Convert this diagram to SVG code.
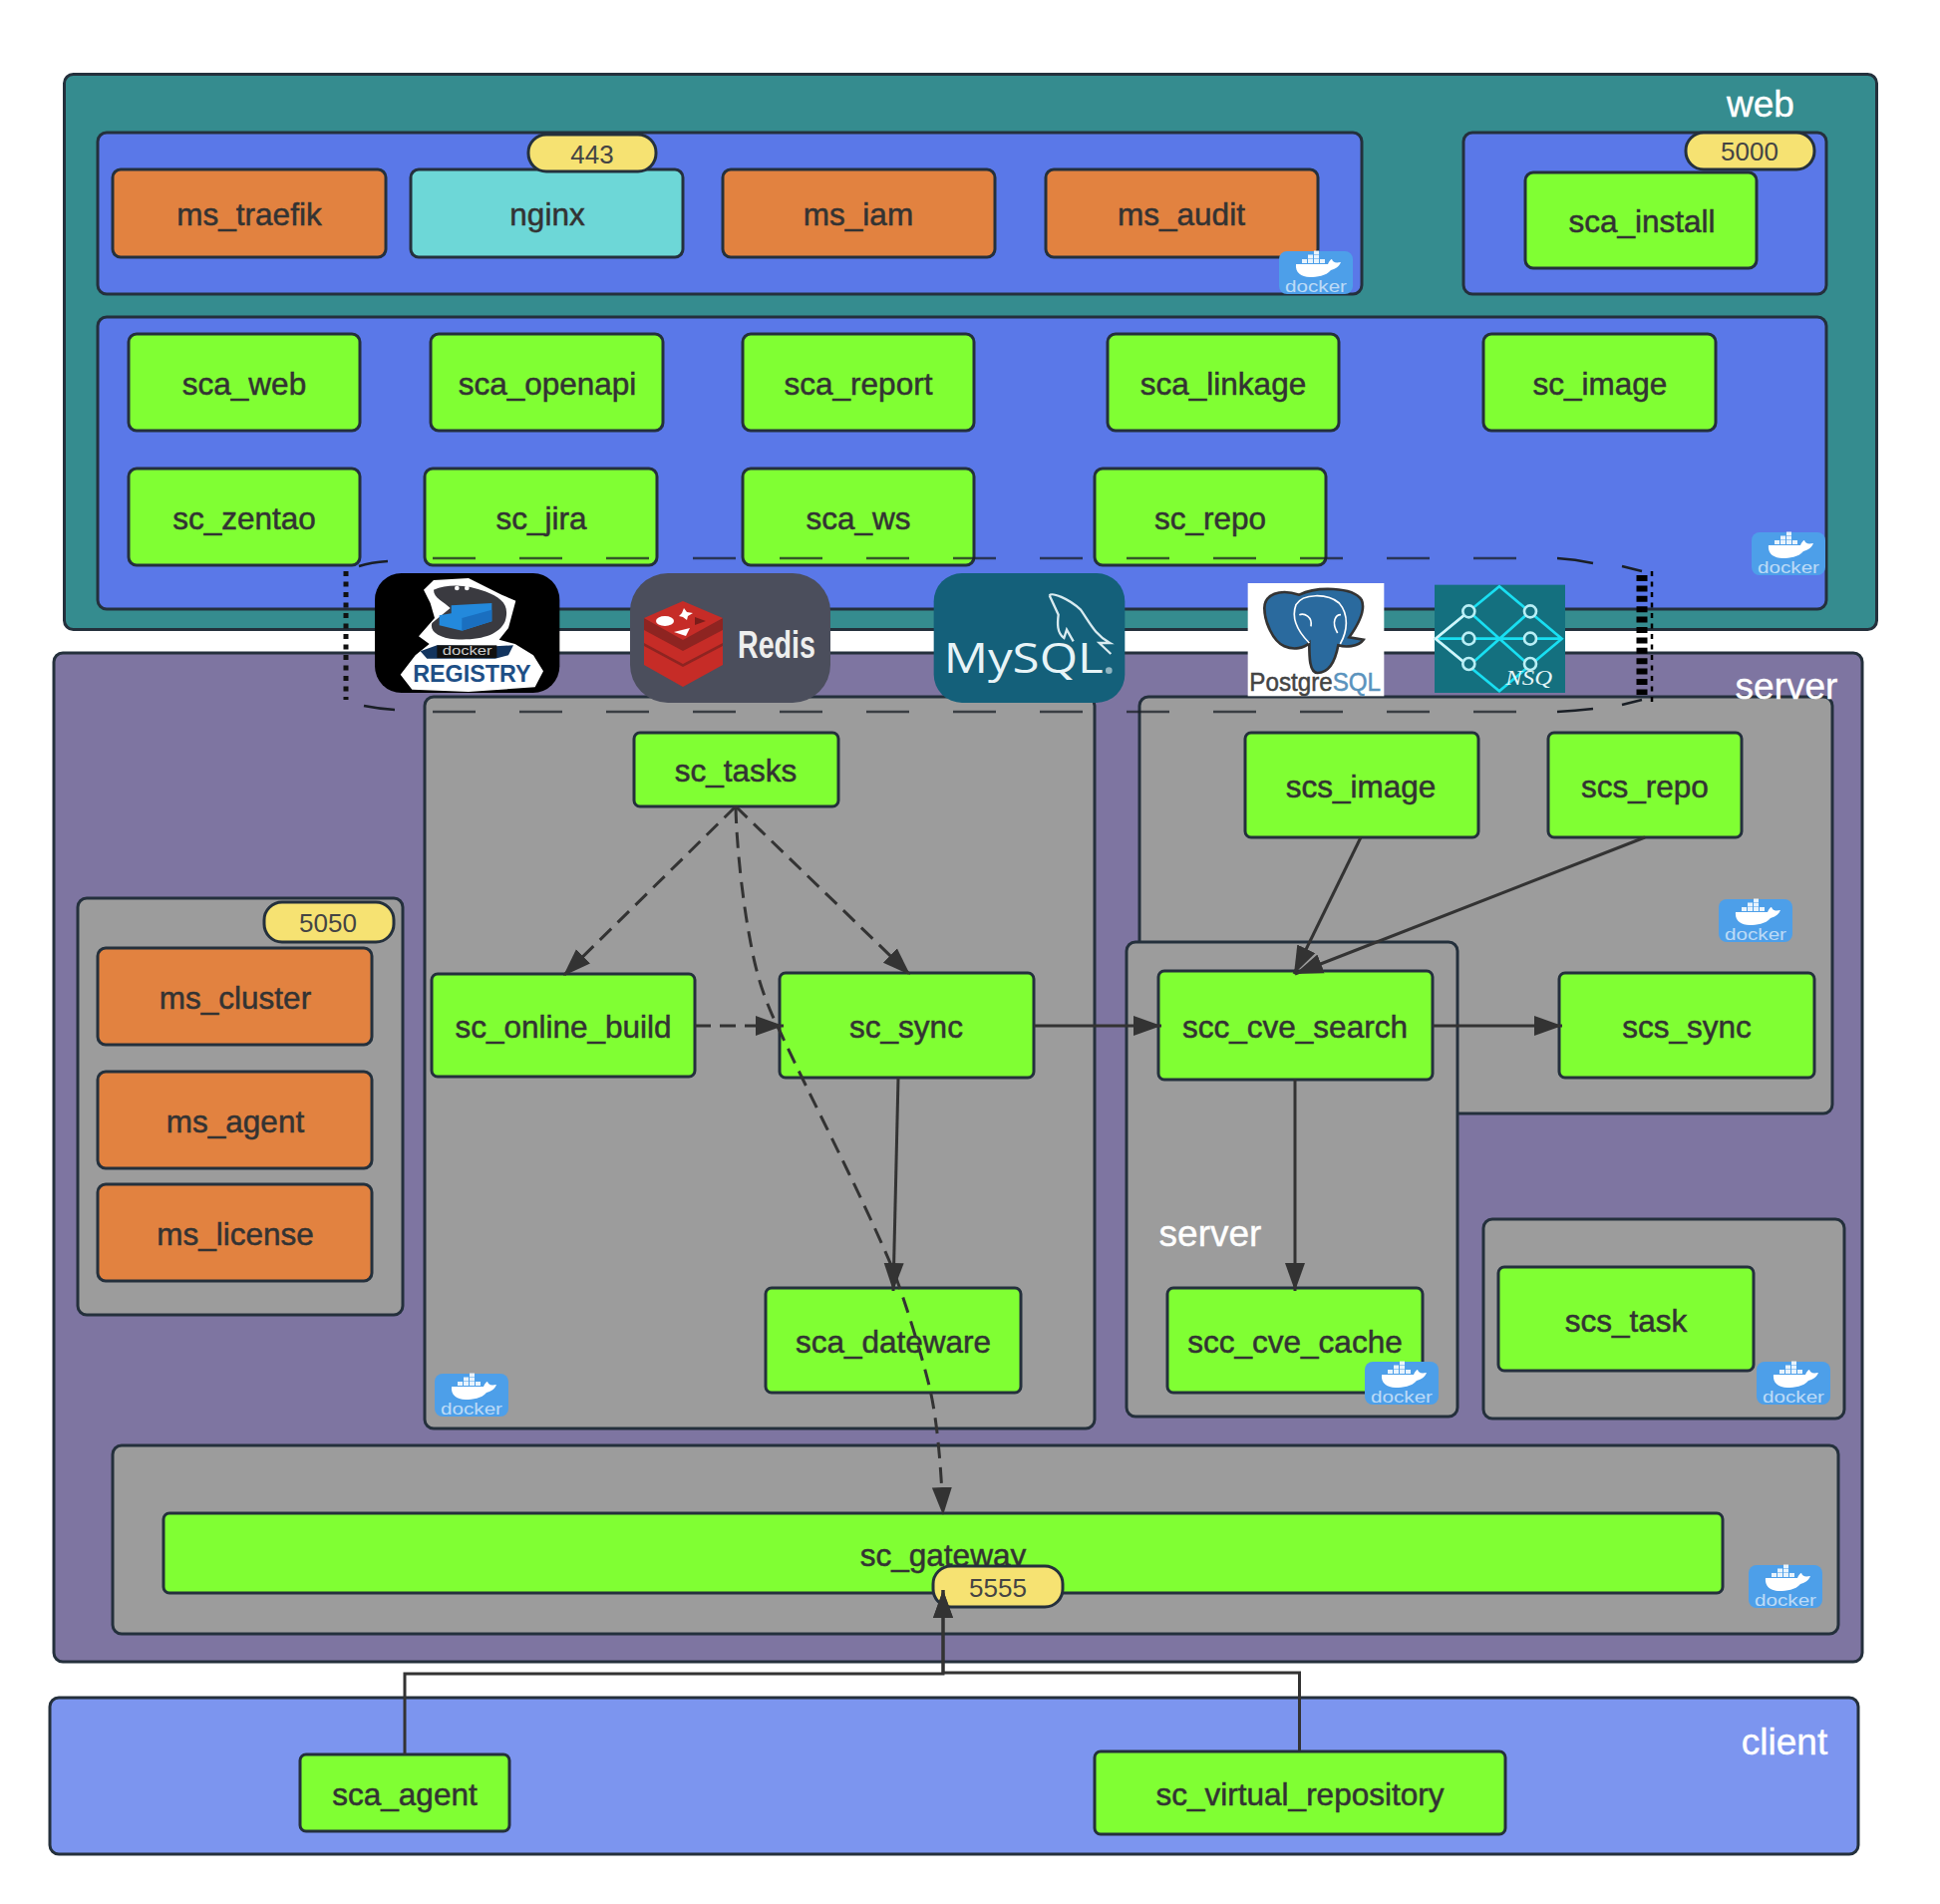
<svg xmlns="http://www.w3.org/2000/svg" width="1946" height="1910" viewBox="0 0 1946 1910">
<style>
text{font-family:"Liberation Sans",Arial,sans-serif}
.b{stroke:#24303c;stroke-width:3}
.web{fill:#358c8f}.blue{fill:#5a78e8}.srv{fill:#7e75a1}.gray{fill:#9c9c9c}.cli{fill:#7c95ef}
.g{fill:#80ff33}.o{fill:#e28240}.c{fill:#6dd7d7}.y{fill:#f6e272}
.t{fill:#333;stroke:#333;stroke-width:.5;font-size:31.500px;text-anchor:middle;dominant-baseline:central}
.p{fill:#444;font-size:26px;text-anchor:middle;dominant-baseline:central}
.l{fill:#fff;stroke:#fff;stroke-width:.4;font-size:37px;text-anchor:middle;dominant-baseline:central}
.dk{fill:#eaf4fd;font-size:17px;text-anchor:middle;opacity:.7}
.cn{fill:none;stroke:#333;stroke-width:3}
.da{stroke-dasharray:16 9}
</style>
<defs>
<marker id="a" markerUnits="userSpaceOnUse" markerWidth="30" markerHeight="22" refX="28" refY="11" orient="auto"><path d="M0 1L28 11L0 21Z" fill="#333"/></marker>
<g id="whale">
<rect width="74" height="43" rx="8" fill="#4d9fe9"/>
<path d="M17 13H49C50 10 52 8 53 8C54 11 56 12 62 11C60 16 56 18 52 19C47 25 38 26 31 26C22 26 16 21 17 13Z" fill="#fff"/>
<path d="M23 8h5v4h-5zM29 8h5v4h-5zM35 8h5v4h-5zM41 8h5v4h-5zM29 3.500h5v4h-5zM35 3.500h5v4h-5zM35 -0.500h5v3.500h-5z" fill="#e8f3fc"/>
</g>
</defs>

<g id="web-frame">
<rect class="b web" x="64.500" y="74.500" width="1818" height="557" rx="9"/>
<text class="l" x="1766" y="104">web</text>
</g>
<g id="panel-web-top"><rect class="b blue" x="98" y="133" width="1268" height="162" rx="9"/></g>
<g id="panel-web-install"><rect class="b blue" x="1468" y="133" width="364" height="162" rx="9"/></g>
<g id="panel-web-services"><rect class="b blue" x="98" y="318" width="1734" height="293" rx="9"/></g>

<g id="server-frame"><rect class="b srv" x="54" y="655" width="1814" height="1012" rx="9"/></g>
<g id="panel-tasks"><rect class="b gray" x="426" y="699" width="672" height="734" rx="9"/></g>
<g id="panel-ms"><rect class="b gray" x="78" y="901" width="326" height="418" rx="9"/></g>
<g id="panel-scs"><rect class="b gray" x="1143" y="699" width="695" height="418" rx="9"/></g>
<g id="panel-scc"><rect class="b gray" x="1130" y="945" width="332" height="476" rx="9"/><text class="l" x="1214" y="1237">server</text></g>
<g id="panel-task"><rect class="b gray" x="1488" y="1223" width="362" height="200" rx="9"/></g>
<g id="panel-gateway"><rect class="b gray" x="113" y="1450" width="1731" height="189" rx="9"/></g>
<text id="server-label" class="l" x="1792" y="688">server</text>

<g id="client-frame">
<rect class="b cli" x="50" y="1703" width="1814" height="157" rx="9"/>
<text class="l" x="1790" y="1747">client</text>
</g>

<g id="ms_traefik"><rect class="b o" x="113" y="170" width="274" height="88" rx="8"/><text class="t" x="250" y="215">ms_traefik</text></g>
<g id="nginx"><rect class="b c" x="412" y="170" width="273" height="88" rx="8"/><text class="t" x="549" y="215">nginx</text></g>
<g id="ms_iam"><rect class="b o" x="725" y="170" width="273" height="88" rx="8"/><text class="t" x="861" y="215">ms_iam</text></g>
<g id="ms_audit"><rect class="b o" x="1049" y="170" width="273" height="88" rx="8"/><text class="t" x="1185" y="215">ms_audit</text></g>
<g id="sca_install"><rect class="b g" x="1530" y="173" width="232" height="96" rx="8"/><text class="t" x="1647" y="222">sca_install</text></g>

<g id="sca_web"><rect class="b g" x="129" y="335" width="232" height="97" rx="8"/><text class="t" x="245" y="385">sca_web</text></g>
<g id="sca_openapi"><rect class="b g" x="432" y="335" width="233" height="97" rx="8"/><text class="t" x="549" y="385">sca_openapi</text></g>
<g id="sca_report"><rect class="b g" x="745" y="335" width="232" height="97" rx="8"/><text class="t" x="861" y="385">sca_report</text></g>
<g id="sca_linkage"><rect class="b g" x="1111" y="335" width="232" height="97" rx="8"/><text class="t" x="1227" y="385">sca_linkage</text></g>
<g id="sc_image"><rect class="b g" x="1488" y="335" width="233" height="97" rx="8"/><text class="t" x="1605" y="385">sc_image</text></g>
<g id="sc_zentao"><rect class="b g" x="129" y="470" width="232" height="97" rx="8"/><text class="t" x="245" y="520">sc_zentao</text></g>
<g id="sc_jira"><rect class="b g" x="426" y="470" width="233" height="97" rx="8"/><text class="t" x="543" y="520">sc_jira</text></g>
<g id="sca_ws"><rect class="b g" x="745" y="470" width="232" height="97" rx="8"/><text class="t" x="861" y="520">sca_ws</text></g>
<g id="sc_repo"><rect class="b g" x="1098" y="470" width="232" height="97" rx="8"/><text class="t" x="1214" y="520">sc_repo</text></g>

<g id="sc_tasks"><rect class="b g" x="636" y="735" width="205" height="74" rx="6"/><text class="t" x="738" y="773">sc_tasks</text></g>
<g id="sc_online_build"><rect class="b g" x="433" y="977" width="264" height="103" rx="6"/><text class="t" x="565" y="1030">sc_online_build</text></g>
<g id="sc_sync"><rect class="b g" x="782" y="976" width="255" height="105" rx="6"/><text class="t" x="909" y="1030">sc_sync</text></g>
<g id="sca_dateware"><rect class="b g" x="768" y="1292" width="256" height="105" rx="6"/><text class="t" x="896" y="1346">sca_dateware</text></g>
<g id="ms_cluster"><rect class="b o" x="98" y="951" width="275" height="97" rx="8"/><text class="t" x="236" y="1001">ms_cluster</text></g>
<g id="ms_agent"><rect class="b o" x="98" y="1075" width="275" height="97" rx="8"/><text class="t" x="236" y="1125">ms_agent</text></g>
<g id="ms_license"><rect class="b o" x="98" y="1188" width="275" height="97" rx="8"/><text class="t" x="236" y="1238">ms_license</text></g>
<g id="scs_image"><rect class="b g" x="1249" y="735" width="234" height="105" rx="6"/><text class="t" x="1365" y="789">scs_image</text></g>
<g id="scs_repo"><rect class="b g" x="1553" y="735" width="194" height="105" rx="6"/><text class="t" x="1650" y="789">scs_repo</text></g>
<g id="scs_sync"><rect class="b g" x="1564" y="976" width="256" height="105" rx="6"/><text class="t" x="1692" y="1030">scs_sync</text></g>
<g id="scc_cve_search"><rect class="b g" x="1162" y="974" width="275" height="109" rx="6"/><text class="t" x="1299" y="1030">scc_cve_search</text></g>
<g id="scc_cve_cache"><rect class="b g" x="1171" y="1292" width="256" height="105" rx="6"/><text class="t" x="1299" y="1346">scc_cve_cache</text></g>
<g id="scs_task"><rect class="b g" x="1503" y="1271" width="256" height="104" rx="6"/><text class="t" x="1631" y="1325">scs_task</text></g>
<g id="sc_gateway"><rect class="b g" x="164" y="1518" width="1564" height="80" rx="6"/><text class="t" x="946" y="1560">sc_gateway</text></g>
<g id="sca_agent"><rect class="b g" x="301" y="1760" width="210" height="77" rx="6"/><text class="t" x="406" y="1800">sca_agent</text></g>
<g id="sc_virtual_repository"><rect class="b g" x="1098" y="1757" width="412" height="83" rx="6"/><text class="t" x="1304" y="1800">sc_virtual_repository</text></g>

<g id="port-443"><rect class="b y" x="530" y="135" width="128" height="37" rx="18"/><text class="p" x="594" y="155">443</text></g>
<g id="port-5000"><rect class="b y" x="1691" y="133" width="129" height="37" rx="18"/><text class="p" x="1755" y="152">5000</text></g>
<g id="port-5050"><rect class="b y" x="265" y="905" width="130" height="40" rx="18"/><text class="p" x="329" y="926">5050</text></g>
<g id="port-5555"><rect class="b y" x="936" y="1571" width="130" height="41" rx="18"/><text class="p" x="1001" y="1593">5555</text></g>

<g id="docker-1"><use href="#whale" x="1283" y="252"/><text class="dk" x="1320" y="293" textLength="62" lengthAdjust="spacingAndGlyphs">docker</text></g>
<g id="docker-2"><use href="#whale" x="1757" y="534"/><text class="dk" x="1794" y="575" textLength="62" lengthAdjust="spacingAndGlyphs">docker</text></g>
<g id="docker-3"><use href="#whale" x="436" y="1378"/><text class="dk" x="473" y="1419" textLength="62" lengthAdjust="spacingAndGlyphs">docker</text></g>
<g id="docker-4"><use href="#whale" x="1724" y="902"/><text class="dk" x="1761" y="943" textLength="62" lengthAdjust="spacingAndGlyphs">docker</text></g>
<g id="docker-5"><use href="#whale" x="1369" y="1366"/><text class="dk" x="1406" y="1407" textLength="62" lengthAdjust="spacingAndGlyphs">docker</text></g>
<g id="docker-6"><use href="#whale" x="1762" y="1366"/><text class="dk" x="1799" y="1407" textLength="62" lengthAdjust="spacingAndGlyphs">docker</text></g>
<g id="docker-7"><use href="#whale" x="1754" y="1570"/><text class="dk" x="1791" y="1611" textLength="62" lengthAdjust="spacingAndGlyphs">docker</text></g>

<g id="registry" transform="translate(370 570) scale(.33333)">
<rect x="18" y="15" width="556" height="360" rx="80" fill="#000"/>
<path d="M165 65L195 36L300 30L400 80L442 98L420 180L392 215L440 228L495 262L525 310L500 358L300 372L130 365L95 320L140 262L182 228L150 205L198 150L185 105Z" fill="#fff"/>
<path d="M195 65C240 45 300 50 350 70C400 90 425 110 410 160C392 200 340 218 260 214C210 210 182 190 190 165L245 120C225 100 195 90 195 65Z" fill="#3a3a40"/>
<path d="M248 112L370 105V160L280 188L212 172V142L248 136Z" fill="#2389dc"/>
<path d="M280 150L370 125V160L280 188Z" fill="#1a6fc0"/>
<circle cx="265" cy="60" r="7" fill="#fff"/><circle cx="295" cy="60" r="7" fill="#fff"/>
<path d="M155 250L205 232L380 235L435 232L420 262L380 272H205L175 272Z" fill="#12345e"/>
<rect x="205" y="232" width="180" height="38" fill="#111"/>
<text x="296" y="260" font-size="36" text-anchor="middle" textLength="150" lengthAdjust="spacingAndGlyphs" fill="#ccc">docker</text>
<text x="310" y="342" font-size="72" font-weight="700" text-anchor="middle" textLength="355" lengthAdjust="spacingAndGlyphs" fill="#1e4f86">REGISTRY</text>
</g>

<g id="redis">
<rect x="632" y="575" width="201" height="130" rx="38" fill="#4b4e5c"/>
<path d="M646 645L685 666L725 645V667L685 689L646 667Z" fill="#c62c27"/>
<path d="M646 632L685 653L725 632V648L685 669L646 648Z" fill="#8e2421"/>
<path d="M646 625L685 646L725 625V645L685 666L646 645Z" fill="#c62c27"/>
<path d="M646 620L685 640L725 620V632L685 653L646 632Z" fill="#8e2421"/>
<path d="M685 603L725 620L685 642L646 620Z" fill="#c62c27"/>
<ellipse cx="667" cy="623" rx="9" ry="5" fill="#fff"/>
<path d="M686 610L689 614L695 615L690 618L689 622L685 619L681 618L684 615Z" fill="#fff"/>
<path d="M676 634L692 630L688 638Z" fill="#fff"/>
<path d="M697 619L708 623L697 627Z" fill="#7a1d1a"/>
<text x="779" y="660" font-size="38" font-weight="700" text-anchor="middle" textLength="78" lengthAdjust="spacingAndGlyphs" fill="#eee">Redis</text>
</g>

<g id="mysql" transform="translate(930 570) scale(.33333)">
<rect x="20" y="15" width="575" height="390" rx="85" fill="#14607a"/>
<path d="M368 82C375 72 425 90 462 125C490 165 505 200 550 225L518 225L553 258M368 82L395 140C392 165 390 195 412 210L420 185L440 220" fill="none" stroke="#d9ebf0" stroke-width="7"/>
<text x="50" y="315" font-size="128" textLength="480" lengthAdjust="spacingAndGlyphs" style="font-family:'Open Sans',sans-serif" fill="#e8f4f7">MySQL</text>
<circle cx="547" cy="308" r="10" fill="#8fb5c2"/>
</g>

<g id="postgresql" transform="translate(1245 580) scale(.33333)">
<rect x="20" y="15" width="410" height="340" fill="#fff"/>
<path d="M70 90C70 50 115 30 175 50C225 25 335 25 362 65C378 100 345 150 325 178L368 185C352 208 312 208 292 202C285 240 270 285 230 285C205 285 205 235 205 195C190 210 160 218 130 205C95 190 70 130 70 90Z" fill="#2a6a9e" stroke="#333" stroke-width="8"/>
<path d="M205 195C170 160 150 120 165 80C185 45 260 45 295 75C325 110 320 160 298 198M175 110C190 105 215 115 210 145M300 110C285 110 270 130 290 165" fill="none" stroke="#fff" stroke-width="5"/>
<text x="25" y="338" font-size="76" textLength="395" lengthAdjust="spacingAndGlyphs" fill="#444" stroke="#444" stroke-width="1.500">Postgre<tspan fill="#5a93bd" stroke="#5a93bd">SQL</tspan></text>
</g>

<g id="nsq" transform="translate(1245 580) scale(.33333)">
<rect x="582" y="20" width="393" height="325" fill="#14707f"/>
<path d="M777 25L965 182L777 340L585 182Z M685 100L870 265M870 100L685 265M590 182H960" fill="none" stroke="#19dff2" stroke-width="8"/>
<path d="M685 100L585 182L685 265" fill="none" stroke="#d4f3f7" stroke-width="8"/>
<g fill="#14707f" stroke="#b8eef5" stroke-width="8">
<circle cx="685" cy="100" r="18"/><circle cx="870" cy="100" r="18"/><circle cx="685" cy="182" r="18"/><circle cx="870" cy="182" r="18"/><circle cx="685" cy="258" r="18"/><circle cx="870" cy="258" r="18"/>
</g>
<text x="796" y="320" font-size="62" font-style="italic" textLength="140" lengthAdjust="spacingAndGlyphs" style="font-family:'Liberation Serif',serif" fill="#e5f6f8">NSQ</text>
</g>

<g id="middleware-frame" fill="none">
<path d="M434 560H1522" stroke="#1a1f26" stroke-opacity=".75" stroke-width="2.500" stroke-dasharray="43 44"/>
<path d="M434 714H1522" stroke="#1a1f26" stroke-opacity=".75" stroke-width="2.500" stroke-dasharray="43 44"/>
<path d="M360 568Q372 564 389 563M365 708Q380 711 396 712M1562 560Q1580 561 1598 565M1627 568L1647 573M1562 714Q1580 713 1598 711M1627 707L1647 702" stroke="#1a1f26" stroke-width="2.500"/>
<path d="M347 573V702" stroke="#111" stroke-width="5" stroke-dasharray="5 5.500"/>
<path d="M1647 577V697" stroke="#000" stroke-width="11" stroke-dasharray="6 4.400"/>
<path d="M1657 573V704" stroke="#000" stroke-width="2.500" stroke-dasharray="5 5.500"/>
</g>

<g id="connectors">
<path class="cn da" marker-end="url(#a)" d="M738 809L565 979"/>
<path class="cn da" marker-end="url(#a)" d="M738 809L913 978"/>
<path class="cn da" marker-end="url(#a)" d="M738 810C739 850 745 905 753 946C760 985 770 1010 783 1036C815 1105 860 1190 893 1267C905 1295 925 1360 933 1394C940 1425 944 1470 946 1520"/>
<path class="cn da" marker-end="url(#a)" d="M697 1029H786"/>
<path class="cn" marker-end="url(#a)" d="M1037 1029H1165"/>
<path class="cn" marker-end="url(#a)" d="M901 1081L896 1295"/>
<path class="cn" marker-end="url(#a)" d="M1365 840L1298 977"/>
<path class="cn" marker-end="url(#a)" d="M1650 840L1299 977"/>
<path class="cn" marker-end="url(#a)" d="M1437 1029H1567"/>
<path class="cn" marker-end="url(#a)" d="M1299 1083V1295"/>
<path class="cn" marker-end="url(#a)" d="M406 1760V1679H946V1595"/>
<path class="cn" marker-end="url(#a)" d="M1303.500 1756V1678H946V1595"/>
</g>
</svg>
